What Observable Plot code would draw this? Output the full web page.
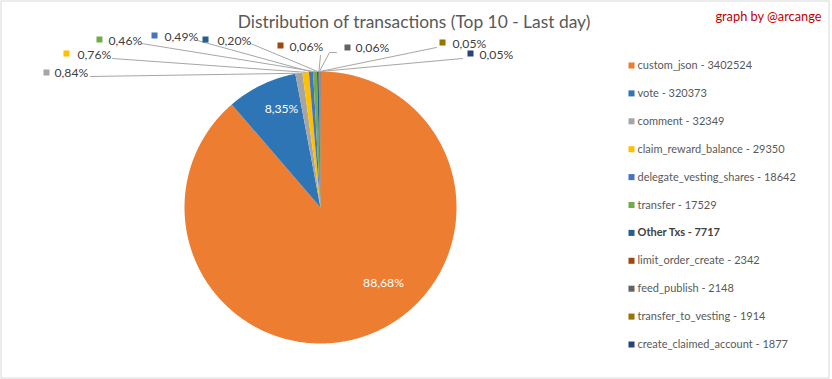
<!DOCTYPE html>
<html><head><meta charset="utf-8">
<script src="https://cdn.jsdelivr.net/npm/d3@7"></script>
<script src="https://cdn.jsdelivr.net/npm/@observablehq/plot@0.6"></script>
<style>
html,body{margin:0;padding:0;background:#fff}
#chart svg{display:block}
</style>
</head><body><div id="chart"></div>
<script>
// ---------- data ----------
const categories = ["custom_json","vote","comment","claim_reward_balance","delegate_vesting_shares","transfer","Other Txs","limit_order_create","feed_publish","transfer_to_vesting","create_claimed_account"];
const values = [3402524,320373,32349,29350,18642,17529,7717,2342,2148,1914,1877];
const colors = ["#ED7D31","#2E75B6","#A5A5A5","#FFC000","#4472C4","#70AD47","#255E91","#9E480E","#636363","#997300","#264478"];
const boldCategories = ["Other Txs"];
const titleText = "Distribution of transactions (Top 10 - Last day)";
const creditText = "graph by @arcange";

// ---------- layout ----------
const W = 832, H = 379;
const pieGeom = {cx: 320, cy: 207, r: 136};
const legendLayout = {xSq: 631, xText: 637, y0: 65, dy: 27.9};
// Excel "best fit" data-label placement
const labelLayout = {
  "custom_json":            {inside: true, x: 383, y: 283},
  "vote":                   {inside: true, x: 281, y: 109},
  "comment":                {sq: [46, 72], tx: 54,  ty: 73, lead: [[90, 76]]},
  "claim_reward_balance":   {sq: [66, 53], tx: 77,  ty: 55, lead: [[112, 58]]},
  "delegate_vesting_shares":{sq: [154, 35], tx: 164, ty: 37, lead: [[197, 40]]},
  "transfer":               {sq: [99, 39], tx: 108, ty: 41, lead: [[141, 43]]},
  "Other Txs":              {sq: [205, 39], tx: 217, ty: 41, lead: [[250, 43]]},
  "limit_order_create":     {sq: [280, 45], tx: 289, ty: 47, lead: [[320, 55]]},
  "feed_publish":           {sq: [347, 47], tx: 355, ty: 48, lead: [[336, 52], [329, 52]]},
  "transfer_to_vesting":    {sq: [442, 42], tx: 452, ty: 44, lead: [[436, 47]]},
  "create_claimed_account": {sq: [470, 53], tx: 479, ty: 55, lead: [[462, 58]]}
};

// ---------- derived ----------
const total = d3.sum(values);
const fmtPct = v => (v / total * 100).toFixed(2).replace(".", ",") + "%";
const arcs = d3.pie().sort(null).startAngle(0).endAngle(2 * Math.PI)(values);
const pt = (a, rr) => ({x: pieGeom.cx + rr * Math.sin(a), y: pieGeom.cy - rr * Math.cos(a)});

const slicePts = [];
arcs.forEach((a, i) => {
  const name = categories[i];
  slicePts.push({name, ...pt(0, 0)});
  const n = Math.max(2, Math.ceil((a.endAngle - a.startAngle) / (Math.PI / 360)));
  for (let k = 0; k <= n; k++) {
    slicePts.push({name, ...pt(a.startAngle + (a.endAngle - a.startAngle) * k / n, pieGeom.r)});
  }
  slicePts.push({name, ...pt(0, 0)});
});

const insideLabels = [], outsideLabels = [], leaders = [];
arcs.forEach((a, i) => {
  const name = categories[i];
  const L = labelLayout[name];
  const text = fmtPct(values[i]);
  if (L.inside) { insideLabels.push({name, text, x: L.x, y: L.y}); return; }
  outsideLabels.push({name, text, sx: L.sq[0], sy: L.sq[1], tx: L.tx, ty: L.ty});
  const mid = (a.startAngle + a.endAngle) / 2;
  L.lead.forEach(p => leaders.push({name, x: p[0], y: p[1]}));
  leaders.push({name, ...pt(mid, pieGeom.r)});
});

const legendRows = categories.map((name, i) => ({
  name, label: `${name} - ${values[i]}`,
  y: legendLayout.y0 + i * legendLayout.dy,
  bold: boldCategories.includes(name)
}));

const chart = Plot.plot({
  width: W, height: H, margin: 0,
  x: {type: "linear", domain: [0, W], range: [0, W], axis: null},
  y: {type: "linear", domain: [0, H], range: [0, H], axis: null},
  color: {domain: categories, range: colors},
  style: {fontFamily: "Lato, 'Open Sans', sans-serif", background: "#fff", overflow: "visible"},
  marks: [
    Plot.frame({stroke: "#d9d9d9", strokeWidth: 1, insetRight: 3.5, insetBottom: 1.5, insetLeft: 0.5, insetTop: 0.5}),
    Plot.line(slicePts, {x: "x", y: "y", z: "name", fill: "name", stroke: "none", curve: "linear"}),
    Plot.line(leaders, {x: "x", y: "y", z: "name", stroke: "#a6a6a6", strokeWidth: 1}),
    Plot.text(insideLabels, {x: "x", y: "y", text: "text", fill: "#ffffff", fontSize: 12.2, textAnchor: "middle"}),
    Plot.dot(outsideLabels, {x: "sx", y: "sy", symbol: "square", r: 3.4, fill: "name", stroke: "none"}),
    Plot.text(outsideLabels, {x: "tx", y: "ty", text: "text", fill: "#404040", fontSize: 12.2, textAnchor: "start"}),
    Plot.dot(legendRows, {x: legendLayout.xSq, y: "y", symbol: "square", r: 3.4, fill: "name", stroke: "none"}),
    Plot.text(legendRows.filter(d => !d.bold), {x: legendLayout.xText, y: "y", text: "label", fill: "#595959", fontSize: 11, textAnchor: "start", letterSpacing: "-0.3px"}),
    Plot.text(legendRows.filter(d => d.bold), {x: legendLayout.xText, y: "y", text: "label", fill: "#404040", fontSize: 11, fontWeight: "bold", textAnchor: "start", letterSpacing: "-0.3px"}),
    Plot.text([titleText], {x: 413.5, y: 22, text: d => d, fill: "#595959", fontSize: 17.4, textAnchor: "middle"}),
    Plot.text([creditText], {x: 821, y: 16, text: d => d, fill: "#C00000", fontSize: 12.8, textAnchor: "end"})
  ]
});
document.getElementById("chart").appendChild(chart);
</script>
</body></html>
